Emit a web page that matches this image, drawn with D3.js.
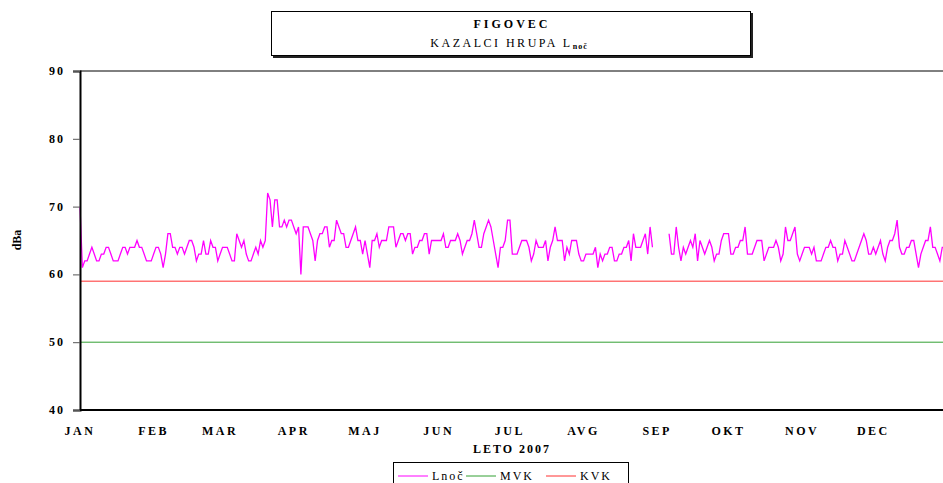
<!DOCTYPE html>
<html>
<head>
<meta charset="utf-8">
<script src="https://cdn.jsdelivr.net/npm/d3@7"></script>
<style>
  body { margin: 0; background: #fff; }
  text { font-family: "Liberation Serif", "Times New Roman", serif; }
</style>
</head>
<body>
<div id="chart"></div>
<script>
// Chart size
const w = 943;
const h = 483;

// Daily night noise level Lnoč, one array per month of 2007 (null = no measurement)
const jan = [70,61,62,62,63,64,63,62,62,63,63,64,64,63,62,62,62,63,64,64,63,64,64,64,65,64,64,63,62,62,62];
const feb = [63,64,64,63,61,63,66,66,64,64,63,64,64,63,64,65,65,64,62,63,63,65,63,63,65,64,64,62];
const mar = [63,64,64,64,63,62,62,66,65,64,65,63,62,62,63,64,63,65,64,65,72,71,67,71,71,67,67,68,67,68,68];
const apr = [67,66,67,60,67,67,67,66,65,62,65,66,66,67,67,64,65,65,68,67,66,66,64,64,65,66,67,65,65,63];
const maj = [65,63,61,65,65,66,64,65,65,65,67,67,67,64,65,66,66,65,66,66,63,64,64,65,65,66,66,63,65,65,65];
const jun = [65,65,66,64,64,65,65,65,66,65,63,64,65,65,66,68,66,64,64,66,67,68,67,65,63,61,64,64,65,68];
const jul = [68,63,63,63,64,65,65,65,64,62,63,65,64,64,64,65,62,64,65,67,65,65,65,62,64,63,65,65,65,63,62];
const avg = [62,63,63,63,63,64,61,63,62,63,63,64,64,62,62,63,63,64,64,65,62,66,64,64,64,65,66,63,67,64,null];
const sep = [null,null,null,null,null,66,63,63,67,64,62,64,63,64,65,64,66,62,65,64,63,64,65,64,62,63,63,65,66,66];
const okt = [66,63,63,64,64,65,65,67,63,63,63,64,65,65,65,62,63,64,64,64,65,64,62,63,67,65,65,66,67,63,62];
const nov = [63,64,64,64,63,64,62,62,62,63,64,64,65,64,64,62,63,63,65,64,63,62,62,63,64,65,66,65,63,63];
const dec = [64,63,64,65,63,62,64,65,65,66,68,64,63,63,64,64,65,65,63,61,63,64,65,65,67,64,64,63,62,64,64];

// Limit values
const mvk = 50;
const kvk = 59;

// Axis labels
const monthLabels = ["JAN","FEB","MAR","APR","MAJ","JUN","JUL","AVG","SEP","OKT","NOV","DEC"];
const yTicks = [40, 50, 60, 70, 80, 90];

// Build daily rows
const months = [jan, feb, mar, apr, maj, jun, jul, avg, sep, okt, nov, dec];
const daily = [];
months.forEach((vals, m) => {
    vals.forEach((v, i) => {
        daily.push({ date: new Date(Date.UTC(2007, m, i + 1)), value: v });
    });
});

const svg = d3.select("#chart")
    .append("svg")
    .attr("width", w)
    .attr("height", h);

// Scales
const xScale = d3.scaleUtc()
    .domain([new Date(Date.UTC(2007, 0, 1)), new Date(Date.UTC(2008, 0, 1))])
    .range([80, 947]);

const yScale = d3.scaleLinear()
    .domain([40, 90])
    .range([410, 71]);

// Top frame line
svg.append("line")
    .attr("x1", 80).attr("x2", 947)
    .attr("y1", yScale(90)).attr("y2", yScale(90))
    .attr("stroke", "#000")
    .attr("stroke-width", 1);

// Limit lines
svg.append("line")
    .attr("x1", 80).attr("x2", 947)
    .attr("y1", yScale(mvk)).attr("y2", yScale(mvk))
    .attr("stroke", "#33a033")
    .attr("stroke-width", 1);

svg.append("line")
    .attr("x1", 80).attr("x2", 947)
    .attr("y1", yScale(kvk)).attr("y2", yScale(kvk))
    .attr("stroke", "#ff3030")
    .attr("stroke-width", 1);

// Lnoč line
const line = d3.line()
    .defined(d => d.value !== null)
    .x(d => xScale(d.date))
    .y(d => yScale(d.value));

svg.append("path")
    .datum(daily)
    .attr("fill", "none")
    .attr("stroke", "#ff00ff")
    .attr("stroke-width", 1.3)
    .attr("d", line);

// Y axis
const yAxis = d3.axisLeft(yScale)
    .tickValues(yTicks)
    .tickSize(7)
    .tickFormat(d => "");

const yG = svg.append("g")
    .attr("transform", "translate(80,0)")
    .call(yAxis);
yG.select(".domain").attr("stroke", "#000").attr("stroke-width", 2);
yG.selectAll(".tick line").attr("stroke", "#555");

svg.selectAll("text.ytick")
    .data(yTicks)
    .enter()
    .append("text")
    .attr("class", "ytick")
    .attr("x", 65)
    .attr("y", d => yScale(d) + 4)
    .attr("text-anchor", "end")
    .attr("font-size", "12px")
    .attr("font-weight", "bold")
    .attr("letter-spacing", "2px")
    .text(d => d);

// X axis
svg.append("line")
    .attr("x1", 80).attr("x2", 947)
    .attr("y1", yScale(40)).attr("y2", yScale(40))
    .attr("stroke", "#000")
    .attr("stroke-width", 2);

svg.selectAll("text.month")
    .data(monthLabels)
    .enter()
    .append("text")
    .attr("class", "month")
    .attr("x", (d, i) => xScale(new Date(Date.UTC(2007, i, 1))))
    .attr("y", 435)
    .attr("text-anchor", "middle")
    .attr("font-size", "12px")
    .attr("font-weight", "bold")
    .attr("letter-spacing", "2.5px")
    .text(d => d);

svg.append("text")
    .attr("x", 512)
    .attr("y", 453)
    .attr("text-anchor", "middle")
    .attr("font-size", "12px")
    .attr("font-weight", "bold")
    .attr("letter-spacing", "2px")
    .text("LETO 2007");

svg.append("text")
    .attr("transform", "translate(21,240) rotate(-90)")
    .attr("text-anchor", "middle")
    .attr("font-size", "12px")
    .attr("font-weight", "bold")
    .text("dBa");

// Title box with shadow
svg.append("rect")
    .attr("x", 273).attr("y", 13)
    .attr("width", 480).attr("height", 45)
    .attr("fill", "#222");
svg.append("rect")
    .attr("x", 271.5).attr("y", 11.5)
    .attr("width", 479).attr("height", 44)
    .attr("fill", "#fff")
    .attr("stroke", "#000")
    .attr("stroke-width", 1);

svg.append("text")
    .attr("x", 512)
    .attr("y", 28)
    .attr("text-anchor", "middle")
    .attr("font-size", "12px")
    .attr("font-weight", "bold")
    .attr("letter-spacing", "3px")
    .text("FIGOVEC");

const sub = svg.append("text")
    .attr("x", 509)
    .attr("y", 47)
    .attr("text-anchor", "middle")
    .attr("font-size", "12px")
    .attr("letter-spacing", "2.5px");
sub.append("tspan").text("KAZALCI HRUPA L");
sub.append("tspan")
    .attr("font-size", "8px")
    .attr("font-weight", "bold")
    .attr("dy", 2)
    .attr("letter-spacing", "1px")
    .text("noč");

// Legend
svg.append("rect")
    .attr("x", 393.5).attr("y", 462.5)
    .attr("width", 235).attr("height", 30)
    .attr("fill", "#fff")
    .attr("stroke", "#000")
    .attr("stroke-width", 1);

const legendItems = [
    { label: "Lnoč", color: "#ff00ff", x: 398 },
    { label: "MVK", color: "#33a033", x: 466 },
    { label: "KVK", color: "#ff3030", x: 546 }
];

const lg = svg.selectAll("g.legend")
    .data(legendItems)
    .enter()
    .append("g")
    .attr("class", "legend")
    .attr("transform", d => `translate(${d.x},476)`);

lg.append("line")
    .attr("x1", 0).attr("x2", 30)
    .attr("y1", 0).attr("y2", 0)
    .attr("stroke", d => d.color)
    .attr("stroke-width", 1);

lg.append("text")
    .attr("x", 34)
    .attr("y", 4)
    .attr("font-size", "12px")
    .attr("letter-spacing", "2px")
    .text(d => d.label);
</script>
</body>
</html>
